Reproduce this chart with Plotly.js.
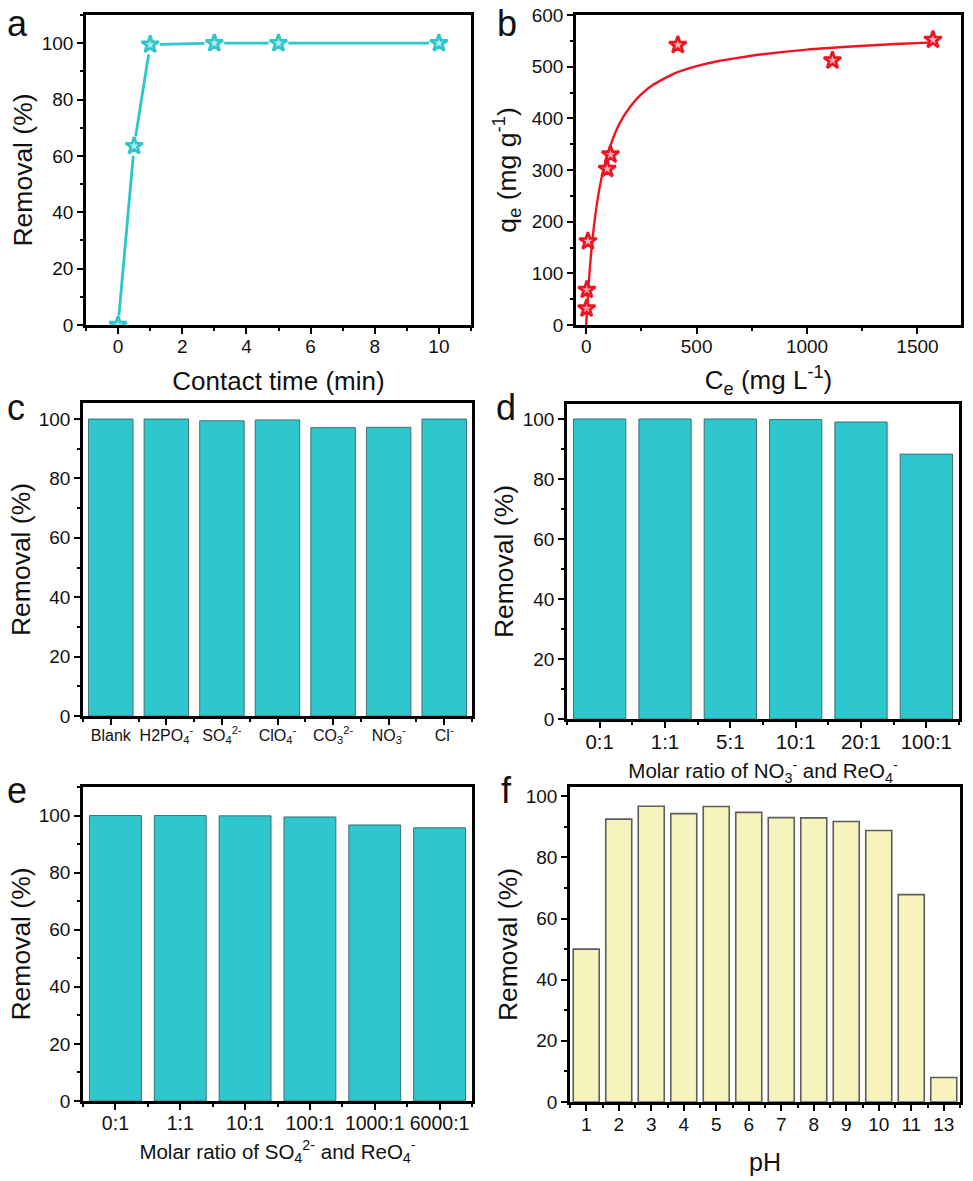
<!DOCTYPE html>
<html>
<head>
<meta charset="utf-8">
<script src="https://cdn.plot.ly/plotly-3.0.1.min.js"></script>
<style>html,body{margin:0;padding:0;background:#fff}#chart{width:973px;height:1181px}</style>
</head>
<body>
<div id="chart"></div>
<script>
// Panel a
const timeMin = [0, 0.5, 1, 3, 5, 10];
const timeRemoval = [0, 63.5, 99.5, 100, 100, 100];
// Panel b
const ceMeasured = [2, 3, 8, 95, 110, 415, 1115, 1570];
const qeMeasured = [32, 68, 162, 302, 330, 542, 512, 552];
const ceFit = [0, 5, 10, 20, 40, 60, 80, 100, 150, 200, 250, 300, 400, 500, 600, 700, 800, 1000, 1200, 1400, 1570];
const qeFit = [0, 38, 72, 127, 208, 264, 304, 335, 389, 423, 447, 464, 487, 501, 511, 518, 524, 533, 539, 544, 547];
// Panel c
const anionLabels = ['Blank', 'H2PO<sub>4</sub><sup>-</sup>', 'SO<sub>4</sub><sup>2-</sup>', 'ClO<sub>4</sub><sup>-</sup>', 'CO<sub>3</sub><sup>2-</sup>', 'NO<sub>3</sub><sup>-</sup>', 'Cl<sup>-</sup>'];
const anionRemoval = [100, 100, 99.4, 99.7, 97.1, 97.2, 100];
// Panel d
const nitrateRatios = ['0:1', '1:1', '5:1', '10:1', '20:1', '100:1'];
const nitrateRemoval = [100, 100, 100, 99.8, 99, 88.3];
// Panel e
const sulfateRatios = ['0:1', '1:1', '10:1', '100:1', '1000:1', '6000:1'];
const sulfateRemoval = [100, 100, 99.9, 99.5, 96.7, 95.7];
// Panel f
const phLabels = ['1', '2', '3', '4', '5', '6', '7', '8', '9', '10', '11', '13'];
const phRemoval = [50, 92.5, 96.7, 94.3, 96.6, 94.7, 93, 92.9, 91.7, 88.8, 67.8, 8];

const W = 973, H = 1181;
const TEAL = '#2CC6CC', RED = '#EE1522', FONT = '"Liberation Sans", Arial, sans-serif';
const dx = (l, r) => [l / W, r / W];
const dy = (t, b) => [1 - b / H, 1 - t / H];

function axisBase() {
  return {
    showline: true, mirror: true, linecolor: '#000', linewidth: 2.6,
    showgrid: false, zeroline: false,
    ticks: 'outside', ticklen: 6, tickwidth: 2, tickcolor: '#000',
    tickfont: { family: FONT, size: 19, color: '#111' }
  };
}
function xAxisCat(dom, labels, anchor, title, standoff, tickSize) {
  return Object.assign(axisBase(), {
    domain: dom, anchor, range: [0.5, labels.length + 0.5], tickmode: 'array',
    tickvals: labels.map((_, i) => i + 1), ticktext: labels, ticklabelstandoff: -3,
    minor: { ticks: 'outside', ticklen: 3, tickwidth: 2, tickcolor: '#000', tick0: 0.5, dtick: 1, showgrid: false },
    tickfont: { family: FONT, size: tickSize || 19, color: '#111' },
    title: title ? { text: title.text, font: { family: FONT, size: title.size, color: '#111' }, standoff } : undefined
  });
}
function yAxis(dom, anchor, range, dtick, minorD, title, standoff) {
  return Object.assign(axisBase(), {
    domain: dom, anchor, range, tick0: 0, dtick,
    minor: { ticks: 'outside', ticklen: 3, tickwidth: 2, tickcolor: '#000', tick0: 0, dtick: minorD, showgrid: false },
    title: { text: title, font: { family: FONT, size: 26.5, color: '#111' }, standoff }
  });
}
function barTrace(labels, values, ax, fill, edge, edgeW) {
  return {
    type: 'bar', x: labels.map((_, i) => i + 1), y: values, width: 0.8,
    xaxis: 'x' + ax, yaxis: 'y' + ax,
    marker: { color: fill, line: { color: edge, width: edgeW } }
  };
}
function letter(text, x, y) {
  return { text, xref: 'paper', yref: 'paper', x: x / W, y: 1 - y / H, xanchor: 'left', yanchor: 'middle',
    showarrow: false, font: { family: FONT, size: 36, color: '#111' }, borderpad: 0 };
}

const data = [
  { type: 'scatter', mode: 'lines', x: timeMin, y: timeRemoval, xaxis: 'x', yaxis: 'y', line: { color: TEAL, width: 2.8 } },
  { type: 'scatter', mode: 'markers', x: timeMin, y: timeRemoval, xaxis: 'x', yaxis: 'y', marker: { symbol: 'circle', size: 20, color: '#fff' } },
  { type: 'scatter', mode: 'markers', x: timeMin, y: timeRemoval, xaxis: 'x', yaxis: 'y',
    marker: { symbol: 'star', size: 13, color: 'rgba(44,198,204,0.35)', line: { color: TEAL, width: 2.7 } } },
  { type: 'scatter', mode: 'lines', x: ceFit, y: qeFit, xaxis: 'x2', yaxis: 'y2', line: { color: RED, width: 2.4, shape: 'spline', smoothing: 0.6 } },
  { type: 'scatter', mode: 'markers', x: ceMeasured, y: qeMeasured, xaxis: 'x2', yaxis: 'y2',
    marker: { symbol: 'star', size: 13, color: 'rgba(255,170,175,0.8)', line: { color: RED, width: 2.7 } } },
  barTrace(anionLabels, anionRemoval, 3, '#2EC7CD', '#3F6F73', 1),
  barTrace(nitrateRatios, nitrateRemoval, 4, '#2EC7CD', '#3F6F73', 1),
  barTrace(sulfateRatios, sulfateRemoval, 5, '#2EC7CD', '#3F6F73', 1),
  barTrace(phLabels, phRemoval, 6, '#F7F3BC', '#5E5E5E', 1.6)
];

const layout = {
  width: W, height: H, margin: { l: 0, r: 0, t: 0, b: 0 }, showlegend: false, autosize: false,
  paper_bgcolor: '#fff', plot_bgcolor: '#fff', bargap: 0.2, font: { family: FONT, color: '#111' },
  xaxis: Object.assign(axisBase(), { domain: dx(86, 471), anchor: 'y', range: [-1, 11], tick0: 0, dtick: 2, ticklabelstandoff: -4,
    minor: { ticks: 'outside', ticklen: 3, tickwidth: 2, tickcolor: '#000', tick0: 0, dtick: 1, showgrid: false },
    title: { text: 'Contact time (min)', font: { family: FONT, size: 26, color: '#111' }, standoff: 17 } }),
  yaxis: yAxis(dy(15, 325), 'x', [0, 110], 20, 10, 'Removal (%)', 2),
  xaxis2: Object.assign(axisBase(), { domain: dx(576, 961), anchor: 'y2', range: [-46, 1697], tick0: 0, dtick: 500, ticklabelstandoff: -4,
    minor: { ticks: 'outside', ticklen: 3, tickwidth: 2, tickcolor: '#000', tick0: 0, dtick: 250, showgrid: false },
    title: { text: 'C<sub>e</sub> (mg L<sup>-1</sup>)', font: { family: FONT, size: 26, color: '#111' }, standoff: 16 } }),
  yaxis2: yAxis(dy(15, 325), 'x2', [0, 600], 100, 50, 'q<sub>e</sub> (mg g<sup>-1</sup>)', 8),
  xaxis3: xAxisCat(dx(83, 472), anionLabels, 'y3', null, 0, 16),
  yaxis3: yAxis(dy(403, 716), 'x3', [0, 105.4], 20, 10, 'Removal (%)', 1),
  xaxis4: xAxisCat(dx(567, 959), nitrateRatios, 'y4', { text: 'Molar ratio of NO<sub>3</sub><sup>-</sup> and ReO<sub>4</sub><sup>-</sup>', size: 20.5 }, 12, 20.5),
  yaxis4: yAxis(dy(404, 719), 'x4', [0, 105], 20, 10, 'Removal (%)', 2),
  xaxis5: xAxisCat(dx(83, 472), sulfateRatios, 'y5', { text: 'Molar ratio of SO<sub>4</sub><sup>2-</sup> and ReO<sub>4</sub><sup>-</sup>', size: 20.5 }, 12, 19.5),
  yaxis5: yAxis(dy(787, 1101), 'x5', [0, 110], 20, 10, 'Removal (%)', 1),
  xaxis6: xAxisCat(dx(570, 960), phLabels, 'y6', { text: 'pH', size: 25 }, 20),
  yaxis6: yAxis(dy(787, 1102), 'x6', [0, 103], 20, 10, 'Removal (%)', 1),
  annotations: [
    letter('a', 6, 24), letter('b', 496, 23),
    letter('c', 6, 407), letter('d', 495, 407),
    letter('e', 6, 790), letter('f', 500, 790)
  ]
};

Plotly.newPlot('chart', data, layout, { displayModeBar: false });
</script>
</body>
</html>
